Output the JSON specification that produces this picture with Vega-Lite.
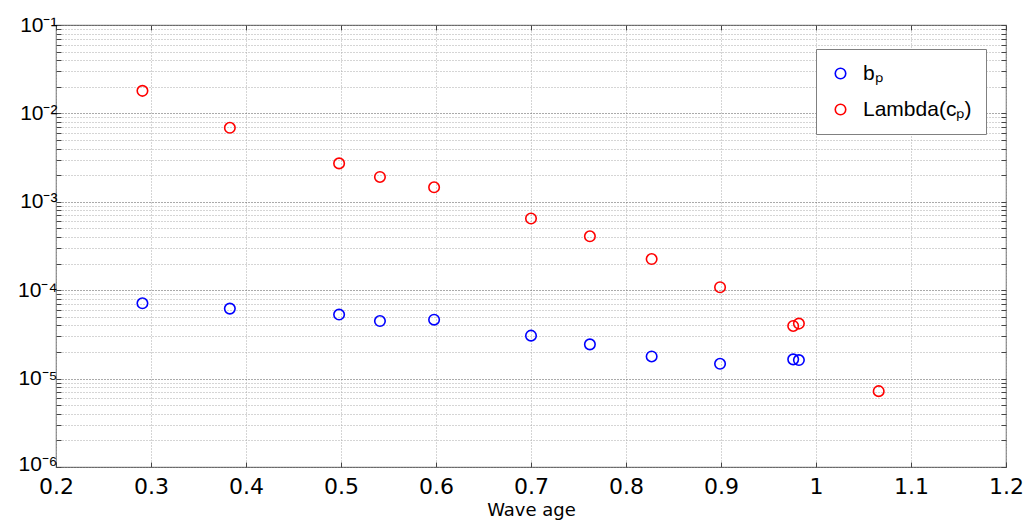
{
  "$schema": "https://vega.github.io/schema/vega-lite/v6.json",
  "width": 950,
  "height": 442,
  "autosize": {"type": "none"},
  "padding": {"left": 56, "top": 25, "right": 20, "bottom": 56},
  "background": "white",
  "config": {
    "font": "Liberation Sans",
    "view": {"stroke": "#808080", "strokeWidth": 1.2},
    "axis": {"labelColor": "black", "titleColor": "black", "domain": false, "tickColor": "#444", "tickWidth": 1, "labelFlush": false, "labelOverlap": false}
  },
  "data": {"values": [
    {"age": 0.291, "value": 7.11e-5, "series": "bₚ"},
    {"age": 0.383, "value": 6.19e-5, "series": "bₚ"},
    {"age": 0.498, "value": 5.30e-5, "series": "bₚ"},
    {"age": 0.541, "value": 4.48e-5, "series": "bₚ"},
    {"age": 0.598, "value": 4.64e-5, "series": "bₚ"},
    {"age": 0.700, "value": 3.06e-5, "series": "bₚ"},
    {"age": 0.762, "value": 2.44e-5, "series": "bₚ"},
    {"age": 0.827, "value": 1.78e-5, "series": "bₚ"},
    {"age": 0.899, "value": 1.47e-5, "series": "bₚ"},
    {"age": 0.976, "value": 1.65e-5, "series": "bₚ"},
    {"age": 0.982, "value": 1.62e-5, "series": "bₚ"},
    {"age": 0.291, "value": 0.0180, "series": "Lambda(cₚ)"},
    {"age": 0.383, "value": 0.00687, "series": "Lambda(cₚ)"},
    {"age": 0.498, "value": 0.00272, "series": "Lambda(cₚ)"},
    {"age": 0.541, "value": 0.00191, "series": "Lambda(cₚ)"},
    {"age": 0.598, "value": 0.00146, "series": "Lambda(cₚ)"},
    {"age": 0.700, "value": 0.000647, "series": "Lambda(cₚ)"},
    {"age": 0.762, "value": 0.000407, "series": "Lambda(cₚ)"},
    {"age": 0.827, "value": 0.000225, "series": "Lambda(cₚ)"},
    {"age": 0.899, "value": 0.000108, "series": "Lambda(cₚ)"},
    {"age": 0.976, "value": 0.0000394, "series": "Lambda(cₚ)"},
    {"age": 0.982, "value": 0.0000419, "series": "Lambda(cₚ)"},
    {"age": 1.066, "value": 0.00000721, "series": "Lambda(cₚ)"}
  ]},
  "resolve": {"scale": {"x": "independent", "y": "independent"}},
  "layer": [
    {
      "mark": {"type": "point", "opacity": 0},
      "encoding": {
        "x": {"field": "age", "type": "quantitative",
          "scale": {"domain": [0.2, 1.2], "nice": false, "zero": false},
          "axis": {"orient": "top", "title": null, "labels": false, "grid": false, "ticks": true, "tickSize": -5,
            "values": [0.2,0.3,0.4,0.5,0.6,0.7,0.8,0.9,1.0,1.1,1.2]}},
        "y": {"field": "value", "type": "quantitative",
          "scale": {"type": "log", "domain": [1e-6, 0.1], "nice": false},
          "axis": {"orient": "right", "title": null, "labels": false, "grid": false, "ticks": true, "tickSize": -5,
            "values": [1e-6,2e-6,3e-6,4e-6,5e-6,6e-6,7e-6,8e-6,9e-6,1e-5,2e-5,3e-5,4e-5,5e-5,6e-5,7e-5,8e-5,9e-5,1e-4,2e-4,3e-4,4e-4,5e-4,6e-4,7e-4,8e-4,9e-4,1e-3,2e-3,3e-3,4e-3,5e-3,6e-3,7e-3,8e-3,9e-3,1e-2,2e-2,3e-2,4e-2,5e-2,6e-2,7e-2,8e-2,9e-2,1e-1]}}
      }
    },
    {
      "mark": {"type": "point", "shape": "circle", "filled": false, "size": 110, "strokeWidth": 1.6, "opacity": 1},
      "encoding": {
        "x": {"field": "age", "type": "quantitative",
          "scale": {"domain": [0.2, 1.2], "nice": false, "zero": false},
          "axis": {"orient": "bottom", "title": "Wave age", "titleFont": "DejaVu Sans", "titleFontSize": 18, "titleFontWeight": "normal", "titlePadding": 4,
            "labelFont": "DejaVu Sans", "labelFontSize": 22, "labelPadding": 14, "tickSize": -5, "format": "~g",
            "values": [0.2,0.3,0.4,0.5,0.6,0.7,0.8,0.9,1.0,1.1,1.2],
            "grid": true, "gridColor": "#aaa", "gridDash": [1, 2], "gridWidth": 1}},
        "y": {"field": "value", "type": "quantitative",
          "scale": {"type": "log", "domain": [1e-6, 0.1], "nice": false},
          "axis": {"orient": "left", "title": null, "labelFontSize": 21, "labelPadding": 4, "tickSize": -5,
            "labelOffset": {"condition": {"test": "datum.value < 1.5e-6", "value": -3}, "value": 0},
            "labelExpr": "abs(log(datum.value)/LN10 - round(log(datum.value)/LN10)) < 1e-6 ? '10⁻' + ['','¹','²','³','⁴','⁵','⁶'][-round(log(datum.value)/LN10)] : ''",
            "values": [1e-6,2e-6,3e-6,4e-6,5e-6,6e-6,7e-6,8e-6,9e-6,1e-5,2e-5,3e-5,4e-5,5e-5,6e-5,7e-5,8e-5,9e-5,1e-4,2e-4,3e-4,4e-4,5e-4,6e-4,7e-4,8e-4,9e-4,1e-3,2e-3,3e-3,4e-3,5e-3,6e-3,7e-3,8e-3,9e-3,1e-2,2e-2,3e-2,4e-2,5e-2,6e-2,7e-2,8e-2,9e-2,1e-1],
            "grid": true, "gridDash": [1, 2], "gridWidth": 1,
            "gridColor": {"condition": {"test": "abs(log(datum.value)/LN10 - round(log(datum.value)/LN10)) < 1e-6", "value": "#555"}, "value": "#aaa"}}},
        "color": {"field": "series", "type": "nominal",
          "scale": {"domain": ["bₚ", "Lambda(cₚ)"], "range": ["#0000ff", "#ff0000"]},
          "legend": {"title": null, "orient": "none", "legendX": 760, "legendY": 24,
            "fillColor": "white", "strokeColor": "#808080", "padding": 14,
            "symbolType": "circle", "symbolSize": 110, "symbolStrokeWidth": 1.6, "symbolFillColor": "transparent",
            "labelFontSize": 21, "labelColor": "black", "rowPadding": 14, "labelOffset": 12}}
      }
    }
  ]
}
